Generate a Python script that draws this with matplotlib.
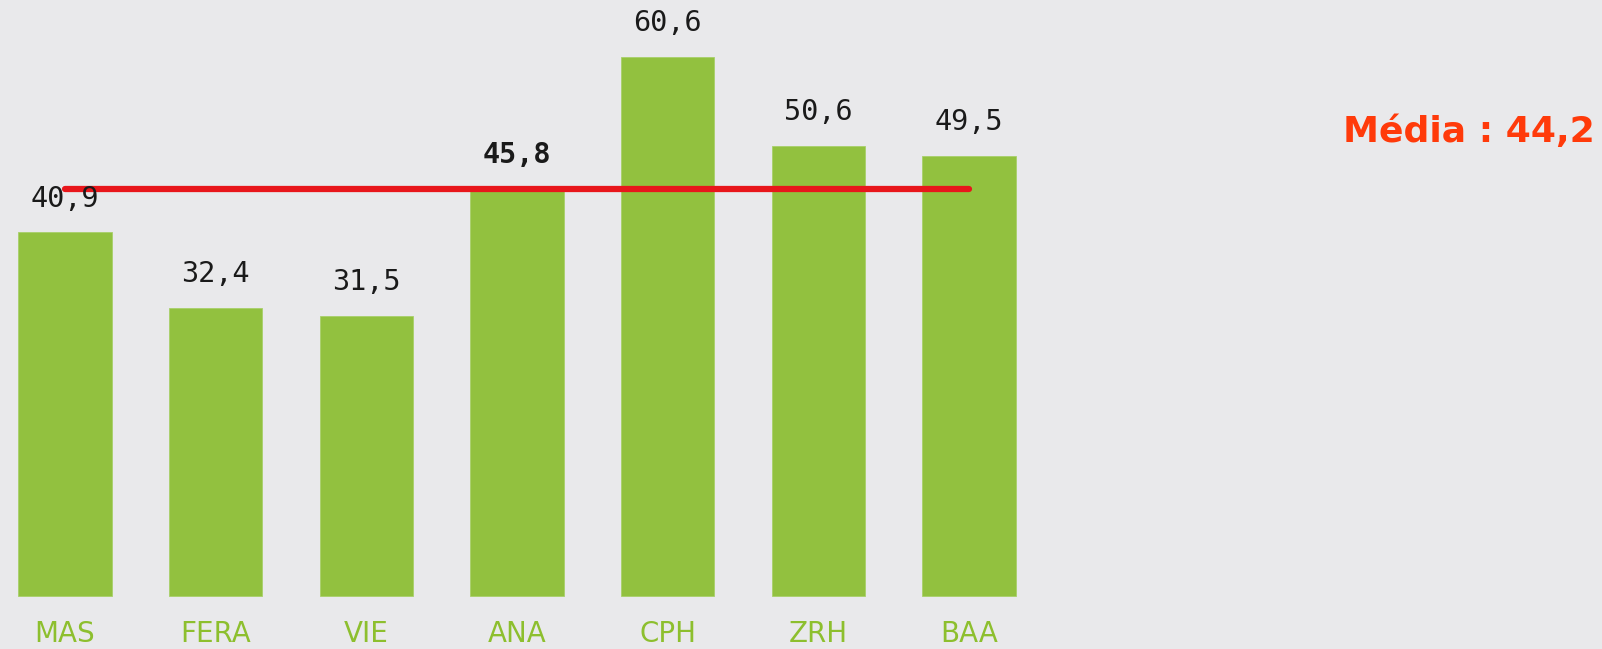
import matplotlib.pyplot as plt

# data
airports = ['MAS', 'FERA', 'VIE', 'ANA', 'CPH', 'ZRH', 'BAA']
values = [40.9, 32.4, 31.5, 45.8, 60.6, 50.6, 49.5]
highlight = 'ANA'
line_level = 45.8
media = 44.2

bg = '#E9E9EB'
fig = plt.figure(figsize=(16.02, 6.49), dpi=100, facecolor=bg)
ax = fig.add_axes([0, 0, 1, 1])
ax.set_facecolor(bg)

x = list(range(len(airports)))
ax.bar(x, values, width=0.62, color='#92C13F', edgecolor='#A8D06A', linewidth=0.6)

# reference line over the bars
ax.plot([x[0], x[-1]], [line_level, line_level], color='#E8161B', linewidth=4.5,
        solid_capstyle='round', zorder=3)

for xi, v, name in zip(x, values, airports):
    label = f'{v:.1f}'.replace('.', ',')
    weight = 'bold' if name == highlight else 'normal'
    ax.text(xi, v + 2.2, label, ha='center', va='bottom', fontsize=20.5,
            family='DejaVu Sans Mono', fontweight=weight, color='#1A1A1A')
    ax.text(xi, -4.3, name, ha='center', va='center', fontsize=20,
            family='DejaVu Sans', color='#8DBF2E')

ax.text(10.15, 52.2, 'Média : ' + f'{media:.1f}'.replace('.', ','), ha='right',
        va='center', fontsize=26, fontweight='bold', family='DejaVu Sans',
        color='#FF3A0A')

ax.set_xlim(-0.431, 10.2)
ax.set_ylim(-5.96, 67.0)
ax.axis('off')

fig.savefig('out.png', dpi=100, facecolor=bg)
